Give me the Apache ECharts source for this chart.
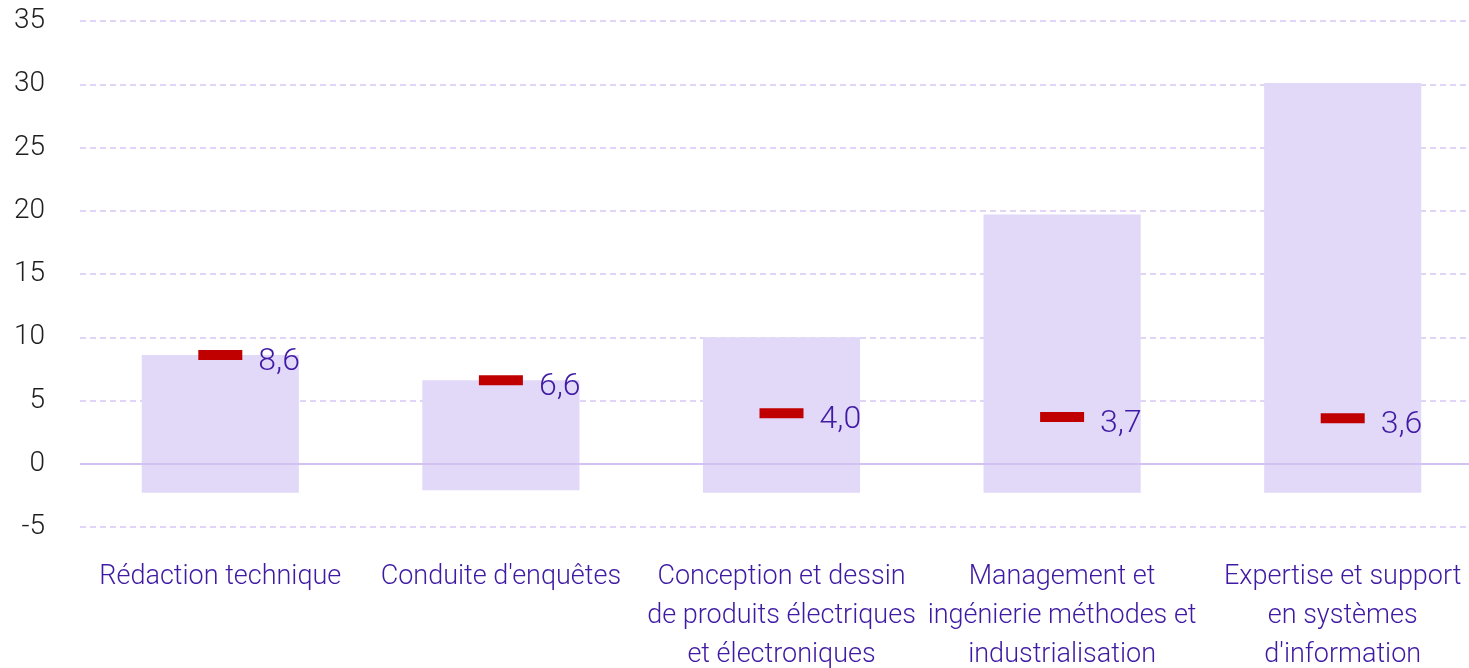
<!DOCTYPE html>
<html>
<head>
<meta charset="utf-8">
<script src="https://cdn.jsdelivr.net/npm/echarts@6/dist/echarts.min.js"></script>
<style>
  html, body { margin: 0; padding: 0; background: #fff; overflow: hidden; }
  #main { width: 1483px; height: 668px; }
</style>
</head>
<body>
<div id="main"></div>
<script>
// catégories (axe x)
var categories = [
  'Rédaction technique',
  "Conduite d'enquêtes",
  'Conception et dessin\nde produits électriques\net électroniques',
  'Management et\ningénierie méthodes et\nindustrialisation',
  "Expertise et support\nen systèmes\nd'information"
];
// bas et haut des barres flottantes
var lows = [-2.3, -2.1, -2.3, -2.3, -2.3];
var highs = [8.6, 6.6, 10.0, 19.7, 30.1];
// valeurs des marqueurs rouges
var values = [8.6, 6.6, 4.0, 3.7, 3.6];

var chart = echarts.init(document.getElementById('main'));

function renderBar(params, api) {
  var lo = api.coord([api.value(0), api.value(1)]);
  var hi = api.coord([api.value(0), api.value(2)]);
  var w = api.size([1, 0])[0] * 0.56;
  return {
    type: 'rect',
    shape: { x: lo[0] - w / 2, y: hi[1], width: w, height: lo[1] - hi[1] },
    style: { fill: '#e2d8f8' }
  };
}

var option = {
  animation: false,
  textStyle: { fontFamily: 'Roboto' },
  // la zone de tracé déborde à droite de la fenêtre (1469px)
  grid: { left: 80, right: 0, top: 21, bottom: 141, outerBoundsMode: 'none' },
  xAxis: {
    type: 'category',
    data: categories,
    axisLine: { show: false, onZero: false },
    axisTick: { show: false },
    axisLabel: {
      interval: 0,
      margin: 31,
      fontSize: 27,
      fontWeight: 300,
      lineHeight: 39,
      color: '#3f1aa3'
    }
  },
  yAxis: {
    type: 'value',
    min: -5,
    max: 35,
    interval: 5,
    axisLine: { show: false },
    axisTick: { show: false },
    axisLabel: { fontSize: 28, fontWeight: 300, color: '#1e1e1e', margin: 35 },
    splitLine: { lineStyle: { color: '#d6c8f3', width: 1.5, type: [6, 4] } }
  },
  series: [{
    type: 'custom',
    renderItem: renderBar,
    encode: { x: 0, y: [1, 2] },
    data: categories.map(function (c, i) { return [i, lows[i], highs[i]]; }),
    z: 2
  }, {
    type: 'scatter',
    data: values,
    symbol: 'rect',
    symbolSize: [44, 10],
    itemStyle: { color: '#c00000', opacity: 1 },
    z: 4,
    label: {
      show: true,
      position: 'right',
      distance: 16,
      offset: [0, 7],
      fontSize: 32,
      fontWeight: 300,
      color: '#3f1aa3',
      formatter: function (p) { return p.value.toFixed(1).replace('.', ','); }
    },
    markLine: {
      silent: true,
      symbol: 'none',
      label: { show: false },
      lineStyle: { color: '#d2c2f2', width: 2, type: 'solid' },
      data: [{ yAxis: 0 }]
    }
  }]
};

chart.setOption(option);
</script>
</body>
</html>
